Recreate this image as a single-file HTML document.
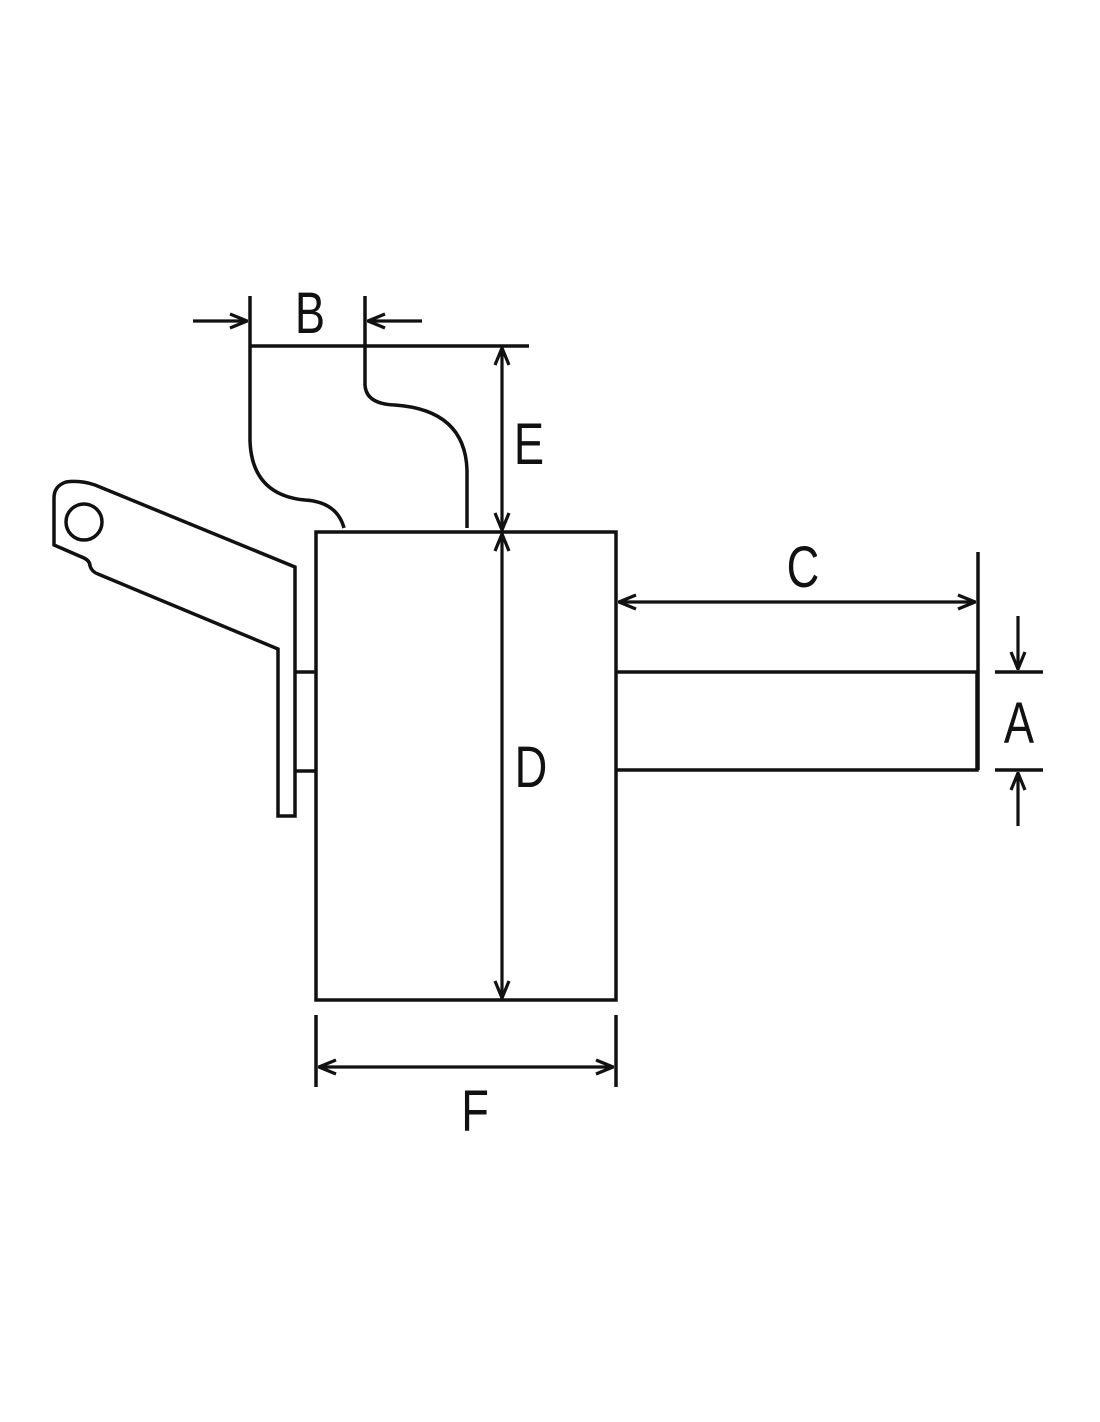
<!DOCTYPE html>
<html><head><meta charset="utf-8"><style>html,body{margin:0;padding:0;background:#fff}svg{display:block}</style></head>
<body>
<svg width="1100" height="1422" viewBox="0 0 1100 1422" xmlns="http://www.w3.org/2000/svg">
<defs>
<marker id="ah" viewBox="0 0 20 20" refX="19" refY="10" markerWidth="20" markerHeight="20" markerUnits="userSpaceOnUse" orient="auto">
<path d="M2,3 L19,10 L2,17" fill="none" stroke="#111" stroke-width="3.2"/>
</marker>
</defs>
<g fill="none" stroke="#111" stroke-width="3.5" stroke-linejoin="miter">
<rect x="316" y="532" width="300" height="468"/>
<path d="M616,672 H977 V770 H616"/>
<line x1="978" y1="552" x2="978" y2="770"/>
<path d="M295,672 H316 M295,771 H316"/>
<path d="M295,567 L95,485 Q80,480 66,482 Q54,486 54,498 L54,545 L84,558 Q90,561 90,566 Q92,572 98,574 L278,649 L278,816 L295,816 Z"/>
<circle cx="84" cy="522" r="18"/>
<path d="M250,296 V441 Q252,495 305,500 Q337,502 344,528"/>
<path d="M365,296 V385 Q366,404 395,405 Q465,410 467,470 V528"/>
<line x1="250" y1="346" x2="529" y2="346"/>
<line x1="316" y1="1015" x2="316" y2="1087"/>
<line x1="616" y1="1015" x2="616" y2="1087"/>
<line x1="995" y1="672" x2="1043" y2="672"/>
<line x1="995" y1="770" x2="1043" y2="770"/>
</g>
<g fill="none" stroke="#111" stroke-width="3.2">
<line x1="193" y1="321" x2="247" y2="321" marker-end="url(#ah)"/>
<line x1="422" y1="321" x2="368" y2="321" marker-end="url(#ah)"/>
<line x1="502" y1="440" x2="502" y2="348" marker-end="url(#ah)"/>
<line x1="502" y1="440" x2="502" y2="530" marker-end="url(#ah)"/>
<line x1="502" y1="700" x2="502" y2="534" marker-end="url(#ah)"/>
<line x1="502" y1="700" x2="502" y2="998" marker-end="url(#ah)"/>
<line x1="800" y1="602" x2="619" y2="602" marker-end="url(#ah)"/>
<line x1="800" y1="602" x2="975" y2="602" marker-end="url(#ah)"/>
<line x1="1018" y1="616" x2="1018" y2="669" marker-end="url(#ah)"/>
<line x1="1018" y1="826" x2="1018" y2="773" marker-end="url(#ah)"/>
<line x1="470" y1="1067" x2="319" y2="1067" marker-end="url(#ah)"/>
<line x1="470" y1="1067" x2="613" y2="1067" marker-end="url(#ah)"/>
</g>
<g font-family="Liberation Sans, sans-serif" font-size="58" fill="#111" text-anchor="middle">
<text transform="translate(310,333) scale(0.78,1)">B</text>
<text transform="translate(529,464) scale(0.78,1)">E</text>
<text transform="translate(803,587) scale(0.78,1)">C</text>
<text transform="translate(531,787) scale(0.78,1)">D</text>
<text transform="translate(1019,743) scale(0.78,1)">A</text>
<text transform="translate(475,1131) scale(0.78,1)">F</text>
</g>
</svg>
</body></html>
